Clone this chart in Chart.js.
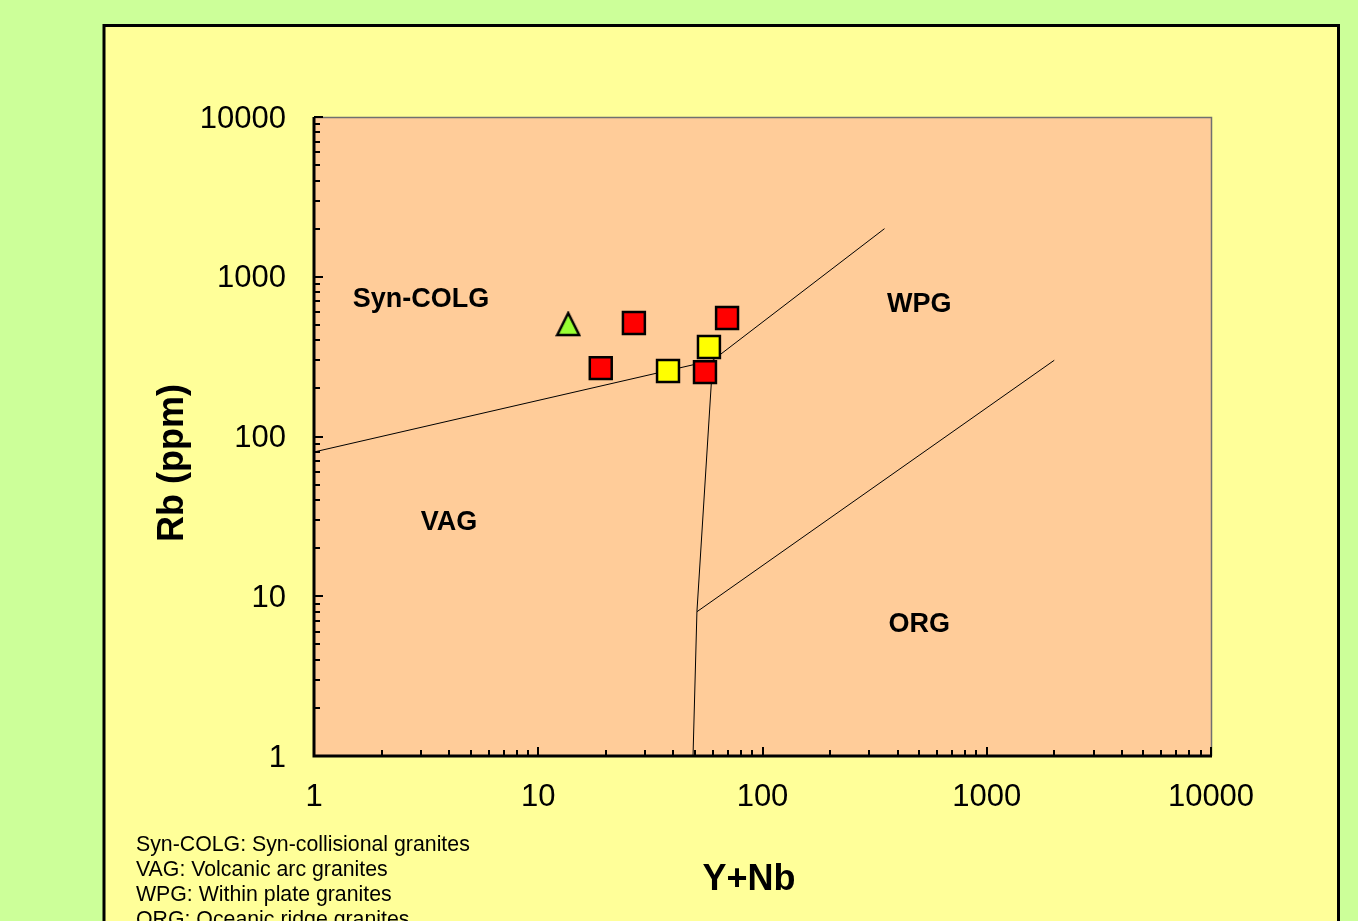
<!DOCTYPE html>
<html>
<head>
<meta charset="utf-8">
<script src="https://cdn.jsdelivr.net/npm/chart.js@4.4.1/dist/chart.umd.min.js"></script>
<style>
  html, body { margin: 0; padding: 0; background: #CCFF99; }
  #wrap { width: 1358px; height: 921px; }
</style>
</head>
<body>
<div id="wrap"><canvas id="c" width="1358" height="921"></canvas></div>
<script>
// ---- data ----
const axisDecades = [1, 10, 100, 1000, 10000];

const redSamplesX = [26.7, 19.0, 55.4, 69.5];
const redSamplesY = [513, 268, 253, 552];

const yellowSamplesX = [37.9, 57.7];
const yellowSamplesY = [257, 363];

const greenSamplesX = [13.6];
const greenSamplesY = [506];

// discrimination boundaries (Pearce et al. 1984)
const boundaryAX = [1, 60, 350];
const boundaryAY = [80, 300, 2000];
const boundaryBX = [60, 51, 49];
const boundaryBY = [300, 8, 1];
const boundaryCX = [51, 2000];
const boundaryCY = [8, 300];

const fieldNames = ['Syn-COLG', 'WPG', 'VAG', 'ORG'];
const fieldX = [3.0, 500, 4.0, 500];
const fieldY = [747, 695, 30, 6.9];

const legendLines = [
  'Syn-COLG: Syn-collisional granites',
  'VAG: Volcanic arc granites',
  'WPG: Within plate granites',
  'ORG: Oceanic ridge granites'
];
const xTitle = 'Y+Nb';
const yTitle = 'Rb (ppm)';

const pts = (xs, ys) => xs.map((x, i) => ({ x: x, y: ys[i] }));

const FONT = '"Liberation Sans", Arial, sans-serif';

// triangle marker centred on its bounding box
function makeTriangle(size, fill) {
  const c = document.createElement('canvas');
  c.width = size; c.height = size;
  const g = c.getContext('2d');
  g.fillStyle = fill;
  g.strokeStyle = '#000';
  g.lineWidth = 2.5;
  g.lineJoin = 'miter';
  g.beginPath();
  g.moveTo(size / 2, 2);
  g.lineTo(size - 2, size - 2);
  g.lineTo(2, size - 2);
  g.closePath();
  g.fill();
  g.stroke();
  return c;
}
const greenTriangle = makeTriangle(26, '#99FF33');

const decorPlugin = {
  id: 'decor',
  beforeDraw(chart) {
    const ctx = chart.ctx;
    const a = chart.chartArea;
    ctx.save();
    ctx.fillStyle = '#CCFF99';
    ctx.fillRect(0, 0, chart.width, chart.height);
    // yellow panel
    ctx.fillStyle = '#FFFF99';
    ctx.fillRect(104, 25.5, 1234.5, 920);
    ctx.strokeStyle = '#000000';
    ctx.lineWidth = 3;
    ctx.strokeRect(104, 25.5, 1234.5, 920);
    // plot area
    ctx.fillStyle = '#FFCC99';
    ctx.fillRect(a.left, a.top, a.right - a.left, a.bottom - a.top);
    ctx.strokeStyle = '#707070';
    ctx.lineWidth = 1.5;
    ctx.beginPath();
    ctx.moveTo(a.left, a.top + 0.5);
    ctx.lineTo(a.right + 0.5, a.top + 0.5);
    ctx.lineTo(a.right + 0.5, a.bottom);
    ctx.stroke();
    ctx.restore();
  },
  afterDatasetsDraw(chart) {
    const ctx = chart.ctx;
    const a = chart.chartArea;
    const xs = chart.scales.x, ys = chart.scales.y;
    ctx.save();
    // axes
    ctx.strokeStyle = '#000';
    ctx.lineWidth = 3;
    ctx.beginPath();
    ctx.moveTo(a.left, a.top);
    ctx.lineTo(a.left, a.bottom);
    ctx.lineTo(a.right + 1, a.bottom);
    ctx.stroke();
    // ticks (inward)
    ctx.lineWidth = 2;
    ctx.beginPath();
    for (let d = 0; d < axisDecades.length; d++) {
      for (let m = 1; m <= 9; m++) {
        const v = axisDecades[d] * m;
        if (v > 10000) break;
        const len = m === 1 ? 9 : 6;
        const px = Math.round(xs.getPixelForValue(v));
        ctx.moveTo(px, a.bottom);
        ctx.lineTo(px, a.bottom - len);
        const py = Math.round(ys.getPixelForValue(v));
        ctx.moveTo(a.left, py);
        ctx.lineTo(a.left + len, py);
      }
    }
    ctx.stroke();
    // field names
    ctx.fillStyle = '#000';
    ctx.font = 'bold 27px ' + FONT;
    ctx.textAlign = 'center';
    ctx.textBaseline = 'middle';
    fieldNames.forEach((n, i) => {
      ctx.fillText(n, xs.getPixelForValue(fieldX[i]), ys.getPixelForValue(fieldY[i]) + 2.5);
    });
    // axis titles
    ctx.font = 'bold 36px ' + FONT;
    ctx.fillText(xTitle, 749, 880);
    ctx.save();
    ctx.translate(173, 463);
    ctx.rotate(-Math.PI / 2);
    ctx.fillText(yTitle, 0, 0);
    ctx.restore();
    // legend text
    ctx.font = '21.3px ' + FONT;
    ctx.textAlign = 'left';
    ctx.textBaseline = 'alphabetic';
    legendLines.forEach((t, i) => ctx.fillText(t, 136, 851 + i * 25));
    ctx.restore();
  }
};

const decadeCallback = v => axisDecades.includes(v) ? String(v) : '';

new Chart(document.getElementById('c'), {
  type: 'scatter',
  data: {
    datasets: [
      { label: 'red', data: pts(redSamplesX, redSamplesY), pointStyle: 'rect', pointRadius: 15.5, pointHoverRadius: 15.5,
        backgroundColor: '#FF0000', borderColor: '#000', borderWidth: 2.5, order: 1 },
      { label: 'yellow', data: pts(yellowSamplesX, yellowSamplesY), pointStyle: 'rect', pointRadius: 15.5, pointHoverRadius: 15.5,
        backgroundColor: '#FFFF00', borderColor: '#000', borderWidth: 2.5, order: 1 },
      { label: 'green', data: pts(greenSamplesX, greenSamplesY), pointStyle: greenTriangle, pointRadius: 13, pointHoverRadius: 13,
        backgroundColor: '#99FF33', borderColor: '#000', borderWidth: 2.5, order: 1 },
      { label: 'A', data: pts(boundaryAX, boundaryAY), showLine: true, pointRadius: 0, borderColor: '#000', borderWidth: 1, order: 2 },
      { label: 'B', data: pts(boundaryBX, boundaryBY), showLine: true, pointRadius: 0, borderColor: '#000', borderWidth: 1, order: 2 },
      { label: 'C', data: pts(boundaryCX, boundaryCY), showLine: true, pointRadius: 0, borderColor: '#000', borderWidth: 1, order: 2 }
    ]
  },
  options: {
    responsive: false,
    animation: false,
    events: [],
    layout: { padding: { left: 0, right: 147, top: 117, bottom: 0 } },
    plugins: { legend: { display: false }, tooltip: { enabled: false } },
    scales: {
      x: {
        type: 'logarithmic', min: 1, max: 10000, position: 'bottom',
        grid: { display: false, drawTicks: false },
        border: { display: false },
        ticks: { color: '#000', font: { family: FONT, size: 31 }, padding: 23, autoSkip: false, maxRotation: 0, callback: decadeCallback },
        afterBuildTicks: s => { s.ticks = axisDecades.map(v => ({ value: v })); },
        afterFit: s => { s.height = 165; }
      },
      y: {
        type: 'logarithmic', min: 1, max: 10000, position: 'left',
        grid: { display: false, drawTicks: false },
        border: { display: false },
        ticks: { color: '#000', font: { family: FONT, size: 31 }, padding: 28, labelOffset: 2, autoSkip: false, callback: decadeCallback },
        afterBuildTicks: s => { s.ticks = axisDecades.map(v => ({ value: v })); },
        afterFit: s => { s.width = 314; }
      }
    }
  },
  plugins: [decorPlugin]
});
</script>
</body>
</html>
